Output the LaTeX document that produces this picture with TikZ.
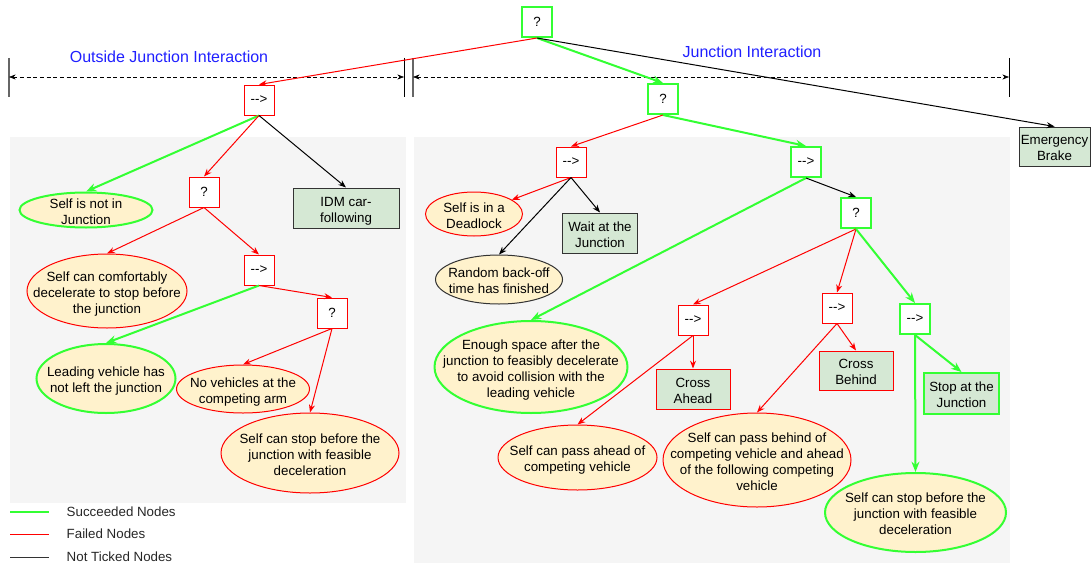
\documentclass[tikz,border=0pt]{standalone}
\usepackage{fontspec}
\setmainfont{Liberation Sans}[Ligatures=TeXOff]
\usepackage{tikz}
\usetikzlibrary{arrows.meta,
shapes.geometric
}
\definecolor{okgreen}{HTML}{33FF33}
\definecolor{badred}{HTML}{FF0000}
\definecolor{panelgray}{HTML}{F5F5F5}
\definecolor{condfill}{HTML}{FFF2CC}
\definecolor{actfill}{HTML}{D5E8D4}
\definecolor{titleblue}{HTML}{1F1FFF}
\tikzset{>={Stealth[length=4pt 2.5, width=3pt 2]}}
\newcommand{\etext}[1]{\makebox[0pt]{\raisebox{-4.75pt}[0pt][0pt]{\begin{tabular}{@{}c@{}}#1\end{tabular}}}}

\begin{document}
\begin{tikzpicture}[x=0.75pt, y=-0.75pt, font=\fontsize{10}{12}\selectfont,
    ctrl/.style={draw, fill=white, minimum size=22.5pt, inner sep=0pt},
    act/.style={draw, fill=actfill, inner sep=0pt},
    cond/.style={ellipse, draw, fill=condfill, inner sep=0pt},
    succ/.style={draw=okgreen, line width=1.5pt},
    fail/.style={draw=badred, line width=0.75pt},
    idle/.style={draw=black!80, line width=0.75pt},
    okline/.style={->, okgreen, line width=1.5pt},
    failline/.style={->, badred, line width=0.75pt},
    idleline/.style={->, black, line width=0.75pt}]
    \useasboundingbox (0,0) rectangle (1091,567);
    \fill[panelgray] (10,137) rectangle (406,503);
    \fill[panelgray] (414,137) rectangle (1010,563);

    \draw[black!60, line width=1pt] (9,58) -- (9,97);
    \draw (404,58) -- (404,97);
    \draw[black!60, line width=1pt] (413,58) -- (413,97);
    \draw (1009,58) -- (1009,97);
    \coordinate (outL) at (9,77);
    \coordinate (outR) at (404,77);
    \coordinate (inL) at (413,77);
    \coordinate (inR) at (1009,77);
    \draw[<->, dash pattern=on 3pt off 2pt] (outL) -- (outR);
    \draw[<->, dash pattern=on 3pt off 2pt] (inL) -- (inR);
    \node[text=titleblue, font=\fontsize{12}{14}\selectfont] (outtitle) at (169,57) {Outside Junction Interaction};
    \node[text=titleblue, font=\fontsize{12}{14}\selectfont] (intitle) at (752,52) {Junction Interaction};

    \node[ctrl, succ] (root) at (537,22) {?};
    \node[ctrl, fail] (L1) at (259,100) {-->};
    \node[ctrl, succ] (J) at (663,99) {?};
    \node[act, idle, minimum width=53.25pt, minimum height=29.25pt] (brake) at (1054.5,146.5) {\etext{Emergency\\Brake}};

    \node[cond, succ, minimum width=99.75pt, minimum height=26.25pt] (notin) at (86,210) {\etext{Self is not in\\Junction}};
    \node[ctrl, fail] (Lq) at (204,192) {?};
    \node[act, idle, minimum width=79.5pt, minimum height=30pt] (idm) at (346,208) {\etext{IDM car-\\following}};
    \node[cond, fail, minimum width=120pt, minimum height=55.5pt] (comf) at (107,291) {\etext{Self can comfortably\\decelerate to stop before\\the junction}};
    \node[ctrl, fail] (L2) at (259,270) {-->};
    \node[ctrl, fail] (Lq2) at (332,313) {?};
    \node[cond, succ, minimum width=104.25pt, minimum height=51.75pt] (lead) at (106,378.5) {\etext{Leading vehicle has\\not left the junction}};
    \node[cond, fail, minimum width=99.75pt, minimum height=36pt] (novh) at (243,389) {\etext{No vehicles at the\\competing arm}};
    \node[cond, fail, minimum width=133.5pt, minimum height=60pt] (stopL) at (310,453) {\etext{Self can stop before the\\junction with feasible\\deceleration}};

    \node[ctrl, fail] (A) at (571,162) {-->};
    \node[ctrl, succ] (B) at (806,162) {-->};
    \node[cond, fail, minimum width=72.75pt, minimum height=33pt] (deadlock) at (474,214) {\etext{Self is in a\\Deadlock}};
    \node[act, idle, minimum width=56.25pt, minimum height=30pt] (wait) at (600,233) {\etext{Wait at the\\Junction}};
    \node[cond, idle, minimum width=95.25pt, minimum height=36.75pt] (random) at (499,279.5) {\etext{Random back-off\\time has finished}};
    \node[ctrl, succ] (C) at (856,213) {?};
    \node[cond, succ, minimum width=144.75pt, minimum height=69pt] (enough) at (531,367) {\etext{Enough space after the\\junction to feasibly decelerate\\to avoid collision with the\\leading vehicle}};
    \node[ctrl, fail] (D) at (693,320) {-->};
    \node[ctrl, fail] (E) at (837,308) {-->};
    \node[ctrl, succ] (F) at (915,319) {-->};
    \node[act, fail, minimum width=55.5pt, minimum height=30pt] (crossA) at (693,389) {\etext{Cross\\Ahead}};
    \node[act, fail, minimum width=55.5pt, minimum height=29.25pt] (crossB) at (856,370.5) {\etext{Cross\\Behind}};
    \node[act, succ, minimum width=56.25pt, minimum height=30.75pt] (stopJ) at (961.5,393.5) {\etext{Stop at the\\Junction}};
    \node[cond, fail, minimum width=119.25pt, minimum height=48.75pt] (passA) at (577.5,457.5) {\etext{Self can pass ahead of\\competing vehicle}};
    \node[cond, fail, minimum width=141pt, minimum height=70.5pt] (passB) at (757,460) {\etext{Self can pass behind of\\competing vehicle and ahead\\of the following competing\\vehicle}};
    \node[cond, succ, minimum width=135.75pt, minimum height=59.25pt] (stopR) at (915.5,512.5) {\etext{Self can stop before the\\junction with feasible\\deceleration}};

    \draw[failline] (root.south) -- (L1.north);
    \draw[okline] (root.south) -- (J.north);
    \draw[idleline] (root.south) -- (brake.north);

    \draw[okline] (L1.south) -- (notin.north);
    \draw[failline] (L1.south) -- (Lq.north);
    \draw[idleline] (L1.south) -- (idm.north);
    \draw[failline] (Lq.south) -- (comf.north);
    \draw[failline] (Lq.south) -- (L2.north);
    \draw[okline] (L2.south) -- (lead.north);
    \draw[failline] (L2.south) -- (Lq2.north);
    \draw[failline] (Lq2.south) -- (novh.north);
    \draw[failline] (Lq2.south) -- (stopL.north);

    \draw[failline] (J.south) -- (A.north);
    \draw[okline] (J.south) -- (B.north);
    \draw[failline] (A.south) -- (deadlock);
    \draw[idleline] (A.south) -- (wait.north);
    \draw[idleline] (A.south) -- (random.north);
    \draw[okline] (B.south) -- (enough.north);
    \draw[idleline] (B.south) -- (C.north);
    \draw[failline] (C.south) -- (D.north);
    \draw[failline] (C.south) -- (E.north);
    \draw[okline] (C.south) -- (F.north);
    \draw[failline] (D.south) -- (crossA.north);
    \draw[failline] (D.south) -- (passA.north);
    \draw[failline] (E.south) -- (crossB.north);
    \draw[failline] (E.south) -- (passB.north);
    \draw[okline] (F.south) -- (stopJ.north);
    \draw[okline] (F.south) -- (stopR.north);

    \coordinate (k1a) at (10,512);
    \coordinate (k1b) at (49,512);
    \coordinate (k2a) at (10,534);
    \coordinate (k2b) at (49,534);
    \coordinate (k3a) at (10,557);
    \coordinate (k3b) at (49,557);
    \draw[okgreen, line width=1.5pt] (k1a) -- (k1b);
    \draw[badred, line width=0.75pt] (k2a) -- (k2b);
    \draw[black!80, line width=0.75pt] (k3a) -- (k3b);
    \node[anchor=west, text=black!85] (key1) at (62,512) {Succeeded Nodes};
    \node[anchor=west, text=black!85] (key2) at (62,534) {Failed Nodes};
    \node[anchor=west, text=black!85] (key3) at (62,557) {Not Ticked Nodes};
\end{tikzpicture}
\end{document}
